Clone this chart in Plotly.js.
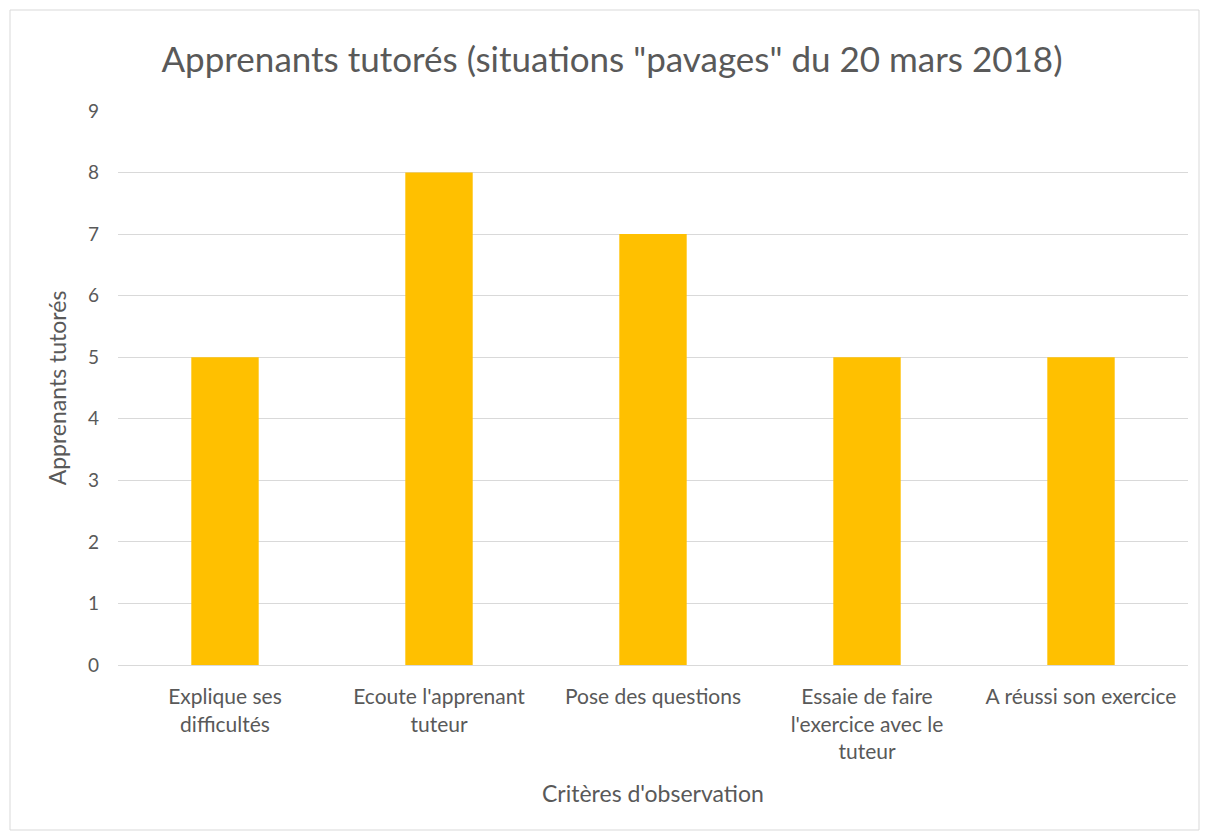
<!DOCTYPE html>
<html><head><meta charset="utf-8">
<script src="https://cdn.plot.ly/plotly-3.0.1.min.js"></script>
<style>html,body{margin:0;padding:0;background:#fff;}</style>
</head><body>
<div id="chart" style="width:1205px;height:834px;"></div>
<script>
const categories = ["Explique ses<br>difficultés", "Ecoute l'apprenant<br>tuteur", "Pose des questions", "Essaie de faire<br>l'exercice avec le<br>tuteur", "A réussi son exercice"];
const values = [5, 8, 7, 5, 5];
const tickVals = [0,1,2,3,4,5,6,7,8,9];

const W = 1205, H = 834, L = 118, R = 17, T = 111, B = 169;
const pw = W - L - R, ph = H - T - B;
const px = v => (v - L) / pw;
const py = v => (H - B - v) / ph;

const font = "Lato, 'Liberation Sans', sans-serif";
Plotly.newPlot('chart', [{
  type: 'bar', x: categories, y: values,
  marker: {color: '#FFC000'}, hoverinfo: 'x+y'
}], {
  width: W, height: H,
  margin: {l: L, r: R, t: T, b: B},
  paper_bgcolor: '#fff', plot_bgcolor: '#fff',
  bargap: 0.685,
  font: {family: font, color: '#595959', size: 20},
  title: {text: 'Apprenants tutorés (situations "pavages" du 20 mars 2018)', font: {size: 35, color: '#595959', family: font}, x: 612/W, xref: 'container', xanchor: 'center', y: 1 - 60/H, yanchor: 'middle'},
  xaxis: {type: 'category', showgrid: false, showline: true, linecolor: '#d9d9d9', linewidth: 1, ticks: '', ticklabelstandoff: 13, tickfont: {size: 21, color: '#595959'},
    title: {text: "Critères d'observation", font: {size: 23, color: '#595959'}, standoff: 24}},
  yaxis: {range: [0, 9], tickvals: tickVals, showgrid: true, gridcolor: '#d9d9d9', zeroline: false, showline: false, ticks: '', ticklen: 0, ticklabelstandoff: 18,
    tickfont: {size: 19, color: '#595959'}, title: {text: 'Apprenants tutorés', font: {size: 23, color: '#595959'}, standoff: 14}},
  shapes: [{type: 'rect', xref: 'paper', yref: 'paper', x0: px(10), x1: px(1199), y0: py(10), y1: py(830), line: {color: '#d9d9d9', width: 1}, fillcolor: 'rgba(0,0,0,0)', layer: 'below'}],
  showlegend: false
}, {displayModeBar: false});
</script>
</body></html>
